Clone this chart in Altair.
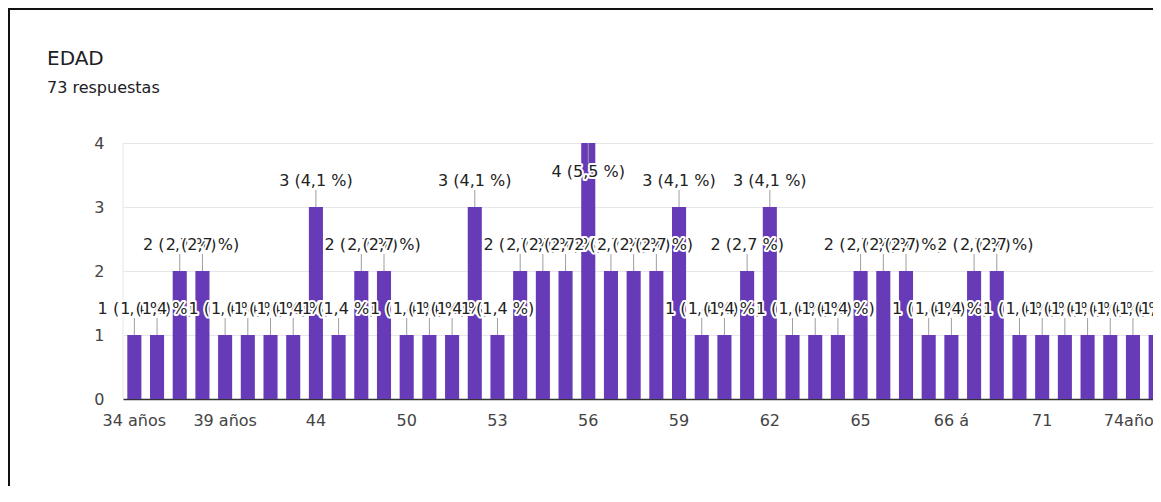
import altair as alt
import pandas as pd

# ---- data ----
categorias = [
    "34 años", "35 años", "36 años", "38 años", "39 años", "40 años", "41", "42",
    "44", "45", "46", "48", "50", "51", "52", "52 años", "53", "54", "55", "55 años",
    "56", "57", "58", "58 años", "59", "60", "60 años", "61", "62", "63", "63 años", "64",
    "65", "65 años", "66", "66 años", "66 á", "67", "68", "69", "71", "72", "73", "74",
    "74años", "75",
]
respuestas = [
    1, 1, 2, 2, 1, 1, 1, 1, 3, 1, 2, 2, 1, 1, 1, 3, 1, 2, 2, 2,
    4, 2, 2, 2, 3, 1, 1, 2, 3, 1, 1, 1, 2, 2, 2, 1, 1, 2, 2, 1,
    1, 1, 1, 1, 1, 1,
]
total = 73
titulo = "EDAD"
subtitulo = f"{total} respuestas"
y_ticks = [0, 1, 2, 3, 4]
etiquetas = [f"{n} ({n / total * 100:.1f} %)".replace(".", ",") for n in respuestas]
x_ticks = [categorias[i] for i in range(0, len(categorias), 4)]

df = pd.DataFrame({
    "orden": list(range(len(categorias))),
    "edad": categorias,
    "n": respuestas,
    "etiqueta": etiquetas,
})

# ---- layout ----
PAD_L, PAD_T, PAD_B, PAD_R = 115, 135, 87, -14
W, H = 1044, 256
FONT = "DejaVu Sans"
PURPLE = "#673ab7"

x_scale = alt.Scale(domain=categorias, paddingInner=0.38, paddingOuter=0.19)
y_scale = alt.Scale(domain=[0, 4], nice=False)

x_axis = alt.Axis(title=None, values=x_ticks, labelAngle=0, ticks=False, grid=False,
                  domainColor="#333333", domainWidth=1.5, labelPadding=13,
                  labelFontSize=16, labelColor="#444444", labelFont=FONT)
y_axis = alt.Axis(title=None, values=y_ticks, domain=False, ticks=False, grid=True,
                  gridColor="#e6e6e6", labelPadding=19, labelFontSize=16,
                  labelColor="#444444", labelFont=FONT, format="d")

bars = alt.Chart().mark_bar(color=PURPLE).encode(
    x=alt.X("edad:N", sort=None, scale=x_scale, axis=x_axis),
    y=alt.Y("n:Q", scale=y_scale, axis=y_axis),
)

xs = alt.X("edad:N", sort=None, scale=x_scale)
ys = alt.Y("n:Q", scale=y_scale)

stems_up = alt.Chart().transform_filter(alt.datum.n < 4).mark_rule(
    color="#9e9e9e", strokeWidth=1, y2Offset=-17
).encode(x=xs, y=ys, y2="n:Q")
stems_in = alt.Chart().transform_filter(alt.datum.n >= 4).mark_rule(
    color="#9e9e9e", strokeWidth=1, y2Offset=20
).encode(x=xs, y=ys, y2="n:Q")

label_layers = []
for k, n in enumerate(respuestas):
    dy = 34 if n >= 4 else -21
    base = alt.Chart().transform_filter(alt.datum.orden == k).encode(
        x=xs, y=ys, text="etiqueta:N"
    )
    label_layers.append(base.mark_text(
        baseline="alphabetic", dy=dy, fontSize=16, font=FONT,
        fill="white", stroke="white", strokeWidth=4, strokeJoin="round"))
    label_layers.append(base.mark_text(
        baseline="alphabetic", dy=dy, fontSize=16, font=FONT, fill="#222222"))

one = alt.Data(values=[{}])
left_edge = alt.Chart(one).mark_rule(color="#e6e6e6").encode(
    x=alt.value(0), y=alt.value(0), y2=alt.value(H))
title_txt = alt.Chart(one).mark_text(
    align="left", baseline="alphabetic", fontSize=20, font=FONT, color="#202124"
).encode(x=alt.value(47 - 123), y=alt.value(65 - 143), text=alt.value(titulo))
sub_txt = alt.Chart(one).mark_text(
    align="left", baseline="alphabetic", fontSize=16, font=FONT, color="#202124"
).encode(x=alt.value(47 - 123), y=alt.value(93 - 143), text=alt.value(subtitulo))
frame_top = alt.Chart(one).mark_rule(color="#111111", strokeWidth=2).encode(
    x=alt.value(-PAD_L), x2=alt.value(W + 10), y=alt.value(-PAD_T + 1))
frame_left = alt.Chart(one).mark_rule(color="#111111", strokeWidth=2).encode(
    x=alt.value(-PAD_L + 1), y=alt.value(-PAD_T), y2=alt.value(H + PAD_B))

chart = alt.layer(
    left_edge, bars, stems_up, stems_in, *label_layers,
    title_txt, sub_txt, frame_top, frame_left,
    data=df,
).properties(
    width=W, height=H,
    autosize=alt.AutoSizeParams(type="none"),
    padding={"left": PAD_L, "top": PAD_T, "right": PAD_R, "bottom": PAD_B},
    background="white",
).configure_view(stroke="transparent")

chart.save("out.html", embed_options={"renderer": "svg", "actions": False})
